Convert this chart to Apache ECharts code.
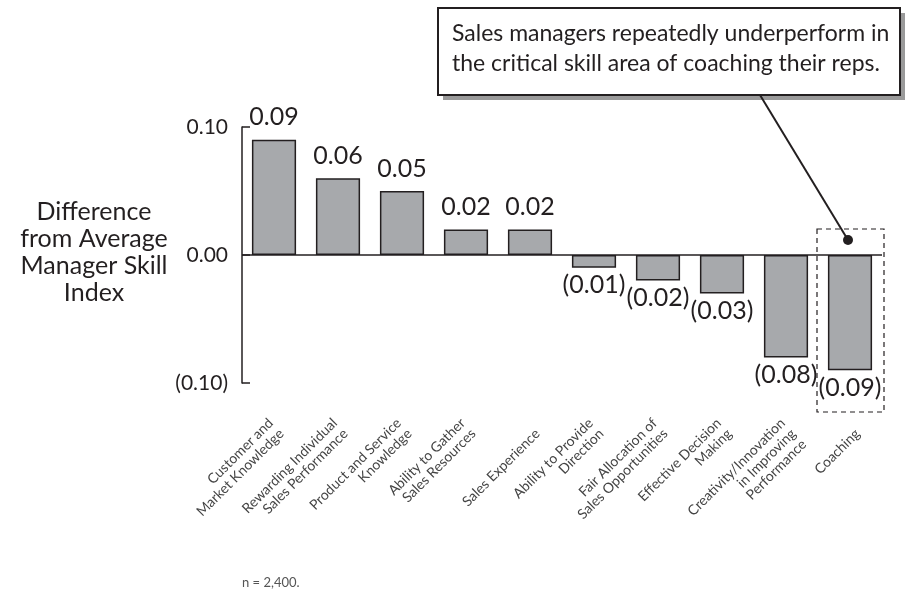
<!DOCTYPE html>
<html>
<head>
<meta charset="utf-8">
<title>Manager Skill Index</title>
<script src="https://cdn.jsdelivr.net/npm/echarts@6/dist/echarts.min.js"></script>
<style>
  html, body { margin: 0; padding: 0; background: #fff; }
  #chart { width: 907px; height: 591px; }
</style>
</head>
<body>
<div id="chart"></div>
<script>
// data
var skills = [
    'Customer and\nMarket Knowledge',
    'Rewarding Individual\nSales Performance',
    'Product and Service\nKnowledge',
    'Ability to Gather\nSales Resources',
    'Sales Experience',
    'Ability to Provide\nDirection',
    'Fair Allocation of\nSales Opportunities',
    'Effective Decision\nMaking',
    'Creativity/Innovation\nin Improving\nPerformance',
    'Coaching'
];
var diffs = [0.09, 0.06, 0.05, 0.02, 0.02, -0.01, -0.02, -0.03, -0.08, -0.09];
var yTicks = [-0.1, 0, 0.1];
var yName = ['Difference', 'from Average', 'Manager Skill', 'Index'];
var calloutLines = ['Sales managers repeatedly underperform in', 'the critical skill area of coaching their reps.'];
var highlight = 'Coaching';
var note = 'n = 2,400.';

var ink = '#231f20';
var font = 'Lato, "Open Sans", sans-serif';

function fmt(v) {
    var s = Math.abs(v).toFixed(2);
    return v < 0 ? '(' + s + ')' : s;
}

var chart = echarts.init(document.getElementById('chart'));

var barData = diffs.map(function (v) {
    return v < 0 ? { value: v, label: { position: 'bottom', distance: 5 } } : v;
});

var option = {
    animation: false,
    textStyle: { fontFamily: font },
    grid: { left: 242, right: 25, top: 127, bottom: 208 },
    xAxis: {
        type: 'category',
        data: skills,
        axisLine: { show: false, onZero: false },
        axisTick: { show: false },
        axisLabel: {
            interval: 0,
            rotate: 45,
            margin: 24,
            verticalAlign: 'top',
            padding: [0, 12, 0, 0],
            fontSize: 14,
            lineHeight: 15,
            color: '#444',
            fontFamily: font,
            // one-line names sit a line lower in the original
            formatter: function (v) { return v.indexOf('\n') < 0 ? '\n' + v : v; }
        }
    },
    yAxis: {
        type: 'value',
        min: yTicks[0],
        max: yTicks[yTicks.length - 1],
        interval: 0.1,
        splitLine: { show: false },
        axisLine: { show: true, lineStyle: { color: ink, width: 1.5 } },
        axisTick: { show: true, inside: true, length: 8, lineStyle: { color: ink, width: 1.5 } },
        axisLabel: {
            margin: 14,
            fontSize: 21,
            color: ink,
            fontFamily: font,
            formatter: function (v) { return fmt(v); }
        }
    },
    series: [{
        type: 'bar',
        data: barData,
        barWidth: '69%',
        itemStyle: { color: '#a7a9ac', borderColor: ink, borderWidth: 1.5 },
        label: {
            show: true,
            position: 'top',
            distance: 10,
            fontSize: 25,
            color: ink,
            fontFamily: font,
            formatter: function (p) { return fmt(p.value); }
        },
        markLine: {
            silent: true,
            symbol: 'none',
            label: { show: false },
            lineStyle: { color: ink, width: 1.5, type: 'solid' },
            data: [{ yAxis: 0 }]
        }
    }]
};
chart.setOption(option);

// annotation pieces placed from the axes
var cx = chart.convertToPixel({ xAxisIndex: 0 }, highlight);
var y0 = chart.convertToPixel({ yAxisIndex: 0 }, 0);

var graphics = yName.map(function (t, i) {
    return {
        type: 'text', x: 94, y: 212 + i * 27,
        style: { text: t, font: '25px ' + font, fill: ink, textAlign: 'center', textVerticalAlign: 'middle' }
    };
});

graphics.push(
    // callout box with shadow
    { type: 'rect', shape: { x: 443, y: 13, width: 462, height: 87 }, style: { fill: '#9a9a9a' }, silent: true },
    { type: 'rect', shape: { x: 438, y: 8, width: 462, height: 87 }, style: { fill: '#fff', stroke: ink, lineWidth: 2 }, silent: true },
    { type: 'text', x: 452, y: 34, style: { text: calloutLines[0], font: '23px ' + font, fill: ink, textVerticalAlign: 'middle' } },
    { type: 'text', x: 452, y: 64, style: { text: calloutLines[1], font: '23px ' + font, fill: ink, textVerticalAlign: 'middle' } },
    // pointer
    { type: 'line', shape: { x1: 760, y1: 95, x2: cx - 2, y2: y0 - 15 }, style: { stroke: ink, lineWidth: 2 }, silent: true },
    { type: 'circle', shape: { cx: cx - 2, cy: y0 - 15, r: 5 }, style: { fill: ink }, silent: true },
    // dashed box round the highlighted bar
    { type: 'rect', shape: { x: cx - 33, y: y0 - 26, width: 67, height: 183 }, style: { fill: 'none', stroke: ink, lineWidth: 1.2, lineDash: [5, 4] }, silent: true },
    { type: 'text', x: 242, y: 583, style: { text: note, font: '13px ' + font, fill: '#555', textVerticalAlign: 'middle' } }
);

chart.setOption({ graphic: graphics });
</script>
</body>
</html>
